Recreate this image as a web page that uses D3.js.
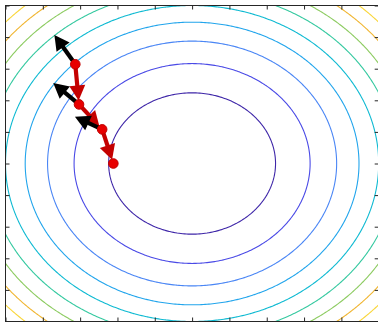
<!DOCTYPE html>
<html>
<head>
<meta charset="utf-8">
<script src="https://cdn.jsdelivr.net/npm/d3@7"></script>
<style>
  html, body { margin: 0; padding: 0; background: #fff; }
  svg { display: block; }
</style>
</head>
<body>
<script>
// Contour levels of f(x, y) = x^2 + y^2 and their line colours
const levels = [5, 10, 15, 20, 25, 30, 35, 40, 45];
const levelColors = ["#3e26a8", "#4a4ae6", "#4a86f5", "#22a5ec", "#0fbad2",
                     "#35c9a0", "#8ccb60", "#f0b530", "#f9d63a"];

// Tick positions (no tick labels are shown)
const xTicks = [-5, -4, -3, -2, -1, 0, 1, 2, 3, 4, 5];
const yTicks = [-5, -4, -3, -2, -1, 0, 1, 2, 3, 4, 5];

// Iterates of the descent path
const pathX = [-3.13, -3.03, -2.41, -2.11];
const pathY = [3.14, 1.87, 1.08, 0.0];

// Direction vectors drawn in black at the first three iterates
const dirX = [-0.56, -0.69, -0.73];
const dirY = [0.93, 0.68, 0.40];

const W = 378, H = 322;
const x = d3.scaleLinear().domain([-5, 5]).range([5.5, 378.7]);
const y = d3.scaleLinear().domain([-5, 5]).range([321.5, 5.5]);

const svg = d3.select("body").append("svg")
  .attr("width", W).attr("height", H);

svg.append("defs").append("clipPath").attr("id", "plot-clip")
  .append("rect")
  .attr("x", x(-5)).attr("y", y(5))
  .attr("width", x(5) - x(-5)).attr("height", y(-5) - y(5));

// --- contour field on a grid slightly larger than the axes
const g0 = -6, g1 = 6, step = 0.05;
const n = Math.round((g1 - g0) / step) + 1;
const values = new Float64Array(n * n);
for (let j = 0; j < n; j++) {
  const vy = g0 + j * step;
  for (let i = 0; i < n; i++) {
    const vx = g0 + i * step;
    values[j * n + i] = vx * vx + vy * vy;
  }
}
const contours = d3.contours().size([n, n]).thresholds(levels)(values);

// grid coordinates put sample i at i + 0.5
const toPlot = d3.geoTransform({
  point(px, py) {
    this.stream.point(x(g0 + (px - 0.5) * step), y(g0 + (py - 0.5) * step));
  }
});
const geoPath = d3.geoPath(toPlot);

const plot = svg.append("g").attr("clip-path", "url(#plot-clip)");
plot.selectAll("path.contour")
  .data(contours)
  .join("path")
  .attr("class", "contour")
  .attr("d", geoPath)
  .attr("fill", "none")
  .attr("stroke", (d, i) => levelColors[i])
  .attr("stroke-width", 1.1);

// --- arrows
function arrow(parent, x0, y0, x1, y1, color, headLen, headW, shaftW, trim) {
  let dx = x1 - x0, dy = y1 - y0;
  const len = Math.hypot(dx, dy);
  const ux = dx / len, uy = dy / len;
  const tx = x1 - ux * trim, ty = y1 - uy * trim;
  const bx = tx - ux * headLen, by = ty - uy * headLen;
  const px = -uy, py = ux;
  const grp = parent.append("g");
  grp.append("line")
    .attr("x1", x0).attr("y1", y0)
    .attr("x2", bx + ux * 1).attr("y2", by + uy * 1)
    .attr("stroke", color).attr("stroke-width", shaftW);
  grp.append("path")
    .attr("d", `M${tx},${ty}L${bx + px * headW / 2},${by + py * headW / 2}` +
               `L${bx - px * headW / 2},${by - py * headW / 2}Z`)
    .attr("fill", color);
}

const arrows = svg.append("g");
for (let k = 0; k < pathX.length - 1; k++) {
  arrow(arrows, x(pathX[k]), y(pathY[k]), x(pathX[k + 1]), y(pathY[k + 1]),
        "#c40000", 15, 16, 4.2, 4);
}
for (let k = 0; k < dirX.length; k++) {
  arrow(arrows, x(pathX[k]), y(pathY[k]),
        x(pathX[k] + dirX[k]), y(pathY[k] + dirY[k]),
        "#000000", 15, 16, 4.2, 0);
}

svg.append("g").selectAll("circle")
  .data(pathX.map((v, i) => [v, pathY[i]]))
  .join("circle")
  .attr("cx", d => x(d[0]))
  .attr("cy", d => y(d[1]))
  .attr("r", 4.8)
  .attr("fill", "#e80000")
  .attr("stroke", "#c00000")
  .attr("stroke-width", 1);

// --- frame with inward ticks on all four sides
const axisColor = "#262626";
function styleAxis(sel) {
  sel.select(".domain").remove();
  sel.selectAll(".tick line").attr("stroke", axisColor);
}
svg.append("g").attr("transform", `translate(0,${y(-5)})`)
  .call(d3.axisBottom(x).tickValues(xTicks).tickSize(-4).tickFormat(""))
  .call(styleAxis);
svg.append("g").attr("transform", `translate(0,${y(5)})`)
  .call(d3.axisTop(x).tickValues(xTicks).tickSize(-4).tickFormat(""))
  .call(styleAxis);
svg.append("g").attr("transform", `translate(${x(-5)},0)`)
  .call(d3.axisLeft(y).tickValues(yTicks).tickSize(-4).tickFormat(""))
  .call(styleAxis);
svg.append("g").attr("transform", `translate(${x(5)},0)`)
  .call(d3.axisRight(y).tickValues(yTicks).tickSize(-4).tickFormat(""))
  .call(styleAxis);

svg.append("rect")
  .attr("x", x(-5)).attr("y", y(5))
  .attr("width", x(5) - x(-5)).attr("height", y(-5) - y(5))
  .attr("fill", "none")
  .attr("stroke", axisColor)
  .attr("stroke-width", 1);
</script>
</body>
</html>
